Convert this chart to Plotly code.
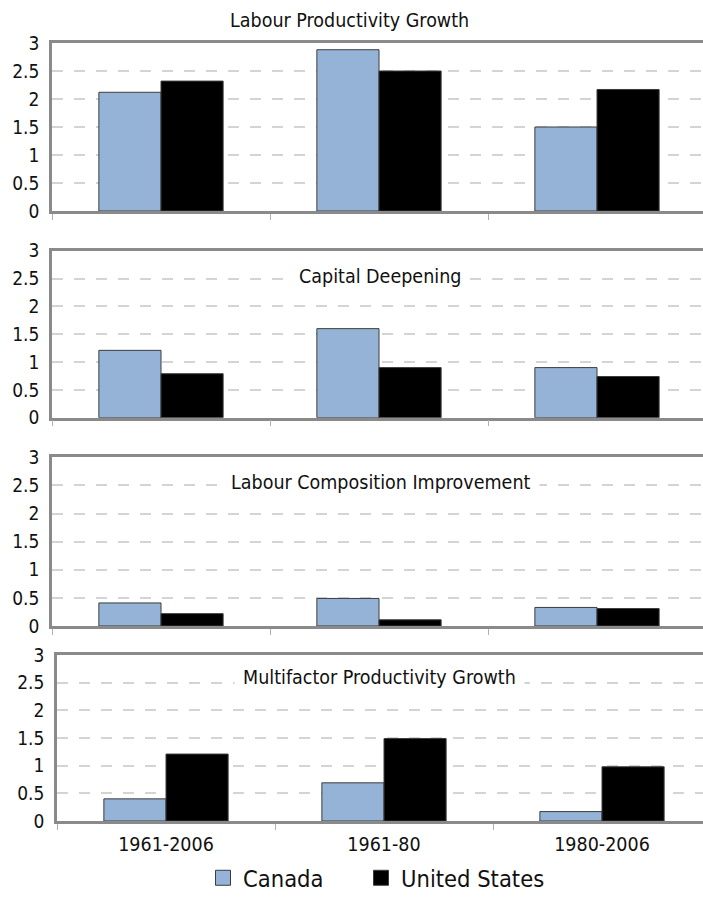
import plotly.graph_objects as go

periods = ["1961-2006", "1961-80", "1980-2006"]
panel_titles = ["Labour Productivity Growth", "Capital Deepening",
                "Labour Composition Improvement", "Multifactor Productivity Growth"]
canada_lpg = [2.12, 2.88, 1.50]
us_lpg = [2.32, 2.50, 2.17]
canada_cd = [1.21, 1.60, 0.90]
us_cd = [0.79, 0.90, 0.74]
canada_lci = [0.41, 0.49, 0.33]
us_lci = [0.22, 0.11, 0.31]
canada_mfp = [0.40, 0.69, 0.17]
us_mfp = [1.21, 1.49, 0.98]
y_ticks = [0, 0.5, 1, 1.5, 2, 2.5, 3]

canada_vals = [canada_lpg, canada_cd, canada_lci, canada_mfp]
us_vals = [us_lpg, us_cd, us_lci, us_mfp]

W, H = 703, 900
FONT = "DejaVu Sans Condensed, Liberation Sans Narrow, Noto Sans, sans-serif"
CAN_COL = "#95b3d7"
US_COL = "#000000"
EDGE_COL = "#3c3c3c"
AXIS_COL = "#8a8a8a"
GRID_COL = "#d4d4d4"
TXT = "#111111"

# pixel geometry of each panel: (left, right, y0 pixel, y3 pixel)
panels = [
    (52, 706, 211.0, 43.0),
    (52, 706, 417.7, 250.7),
    (52, 706, 626.0, 457.3),
    (57, 711, 821.0, 655.0),
]
title_pos = [(349, 20), (380, 277), (381, 483), (379, 677)]

fig = go.Figure()
layout = {}
for i in range(4):
    xa = "x" if i == 0 else f"x{i+1}"
    ya = "y" if i == 0 else f"y{i+1}"
    left, right, yb, yt = panels[i]
    cat_w = (right - left) / 3.0
    vis_right = min(right, W)
    rng_hi = -0.5 + (vis_right - left) / cat_w
    fig.add_trace(go.Bar(x=periods, y=canada_vals[i], name="Canada",
                         marker=dict(color=CAN_COL, line=dict(color=EDGE_COL, width=1)),
                         xaxis=xa, yaxis=ya, showlegend=False))
    fig.add_trace(go.Bar(x=periods, y=us_vals[i], name="United States",
                         marker=dict(color=US_COL, line=dict(color=EDGE_COL, width=1)),
                         xaxis=xa, yaxis=ya, showlegend=False))
    xkey = "xaxis" if i == 0 else f"xaxis{i+1}"
    ykey = "yaxis" if i == 0 else f"yaxis{i+1}"
    layout[xkey] = dict(
        domain=[left / W, 1.0], anchor=ya, type="category",
        range=[-0.5, rng_hi], showline=True, linecolor=AXIS_COL, linewidth=2.5,
        mirror=True, ticks="outside", tickson="boundaries", ticklen=6,
        tickcolor="#b0b0b0", tickwidth=1, showgrid=False, automargin=False,
        showticklabels=(i == 3), ticklabelstandoff=4,
        tickfont=dict(family=FONT, size=19.5, color=TXT),
    )
    layout[ykey] = dict(
        domain=[1 - yb / H, 1 - yt / H], anchor=xa, range=[0, 3],
        tickvals=y_ticks, showline=True, linecolor=AXIS_COL, linewidth=2.5,
        showgrid=True, gridcolor=GRID_COL, gridwidth=1.5, griddash="11px,11px",
        zeroline=False, ticks="", ticklabelstandoff=6, automargin=False,
        tickfont=dict(family=FONT, size=19, color=TXT),
    )

# legend entries (same styling as the bars), one legend per entry
fig.add_trace(go.Scatter(x=[None], y=[None], mode="markers", name="Canada",
                         marker=dict(symbol="square", size=15, color=CAN_COL,
                                     line=dict(color=EDGE_COL, width=1)),
                         legend="legend"))
fig.add_trace(go.Scatter(x=[None], y=[None], mode="markers", name="United States",
                         marker=dict(symbol="square", size=15, color=US_COL,
                                     line=dict(color=EDGE_COL, width=1)),
                         legend="legend2"))

annotations = []
for i, t in enumerate(panel_titles):
    tx, ty = title_pos[i]
    annotations.append(dict(
        text=t, x=tx / W, y=1 - ty / H, xref="paper", yref="paper",
        xanchor="center", yanchor="middle", showarrow=False,
        font=dict(family=FONT, size=19.5, color=TXT),
        bgcolor="white" if i > 0 else "rgba(0,0,0,0)", borderpad=8,
    ))

legend_common = dict(orientation="h", xanchor="left", yanchor="bottom", y=0,
                     font=dict(family=FONT, size=23.5, color=TXT),
                     bgcolor="rgba(0,0,0,0)")

fig.update_layout(
    width=W, height=H, margin=dict(l=0, r=0, t=0, b=0, autoexpand=False),
    paper_bgcolor="white", plot_bgcolor="white",
    barmode="group", bargap=0.43, bargroupgap=0,
    annotations=annotations,
    showlegend=True,
    legend=dict(x=203 / W, **legend_common),
    legend2=dict(x=361 / W, **legend_common),
    **layout,
)

fig.write_html("out.html")
